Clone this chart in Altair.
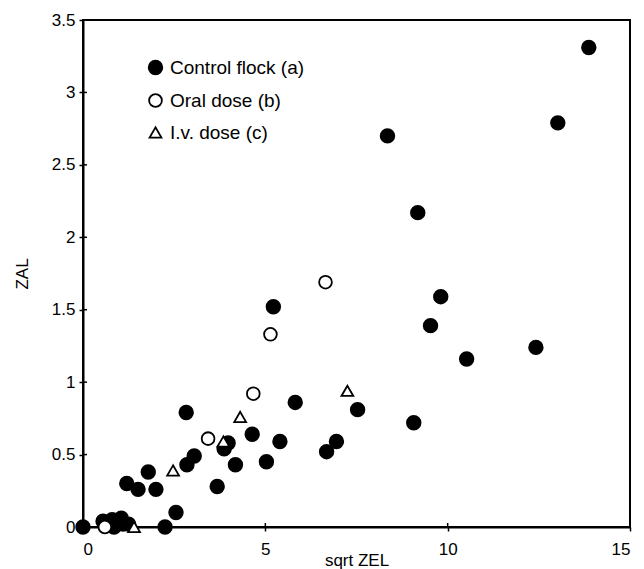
import altair as alt
import pandas as pd

# Control flock (a)
control_x = [0, 0.55, 0.8, 0.85, 1.05, 1.1, 1.25, 2.25, 2.55, 1.2, 1.51, 2.0, 1.79, 2.83, 2.85,
             3.05, 3.68, 3.87, 3.98, 4.18, 4.64, 5.03, 5.4, 5.82, 6.68, 6.95, 7.53, 5.22, 9.07,
             8.35, 9.18, 9.53, 9.81, 10.52, 12.42, 13.02, 13.87]
control_y = [0, 0.04, 0.05, 0.0, 0.06, 0.02, 0.02, 0.0, 0.10, 0.30, 0.26, 0.26, 0.38, 0.79, 0.43,
             0.49, 0.28, 0.54, 0.58, 0.43, 0.64, 0.45, 0.59, 0.86, 0.52, 0.59, 0.81, 1.52, 0.72,
             2.70, 2.17, 1.39, 1.59, 1.16, 1.24, 2.79, 3.31]
# Oral dose (b)
oral_x = [0.6, 3.43, 4.67, 5.14, 6.65]
oral_y = [0.0, 0.61, 0.92, 1.33, 1.69]
# I.v. dose (c)
iv_x = [1.4, 2.47, 3.85, 4.31, 7.25]
iv_y = [0.0, 0.39, 0.59, 0.76, 0.94]

groups = ["Control flock (a)", "Oral dose (b)", "I.v. dose (c)"]
x_ticks = [0, 5, 10, 15]
y_ticks = [0, 0.5, 1, 1.5, 2, 2.5, 3, 3.5]

rows = []
for g, xs, ys in [(groups[0], control_x, control_y), (groups[1], oral_x, oral_y), (groups[2], iv_x, iv_y)]:
    for a, b in zip(xs, ys):
        rows.append({"x": a, "y": b, "group": g})
df = pd.DataFrame(rows)
df["ord"] = range(len(df))

FONT = "Liberation Sans"

xscale = alt.Scale(domain=[0, 15], nice=False, zero=False)
yscale = alt.Scale(domain=[0, 3.5], nice=False, zero=False)

leg = alt.Legend(title=None, orient="none", legendX=63, legendY=38)

points = alt.Chart(df).mark_point(strokeWidth=1.8, opacity=1, fillOpacity=1, strokeOpacity=1).encode(
    x=alt.X("x:Q", scale=xscale, title="sqrt ZEL",
            axis=alt.Axis(values=x_ticks, grid=False, tickSize=4, labelPadding=10, titlePadding=-5)),
    y=alt.Y("y:Q", scale=yscale, title="ZAL",
            axis=alt.Axis(values=y_ticks, grid=False, tickSize=4, labelPadding=4, titlePadding=20,
                          format="~g")),
    shape=alt.Shape("group:N", scale=alt.Scale(domain=groups, range=["circle", "circle", "triangle-up"]),
                    legend=leg),
    fill=alt.Fill("group:N", scale=alt.Scale(domain=groups, range=["black", "white", "white"]), legend=leg),
    stroke=alt.Stroke("group:N", scale=alt.Scale(domain=groups, range=["black", "black", "black"]), legend=leg),
    size=alt.Size("group:N", scale=alt.Scale(domain=groups, range=[185, 140, 75]), legend=leg),
    order=alt.Order("ord:Q"),
)

ytk = pd.DataFrame({"v": y_ticks})
xtk = pd.DataFrame({"v": x_ticks})
inner_y = alt.Chart(ytk).mark_rule(color="black", strokeWidth=1.5).encode(
    y=alt.Y("v:Q", scale=yscale), x=alt.value(0), x2=alt.value(4))
inner_x = alt.Chart(xtk).mark_rule(color="black", strokeWidth=1.5).encode(
    x=alt.X("v:Q", scale=xscale), y=alt.value(507), y2=alt.value(503))

chart = alt.layer(points, inner_y, inner_x).properties(
    width=547, height=507,
    autosize=alt.AutoSizeParams(type="none"),
    padding={"left": 75, "top": 12, "right": 6, "bottom": 42},
).configure_view(
    stroke="black", strokeWidth=2
).configure_axis(
    domainColor="black", domainWidth=2, tickColor="black", tickWidth=1.5,
    labelFont=FONT, labelFontSize=17, labelColor="black",
    titleFont=FONT, titleFontSize=17, titleFontWeight="normal", titleColor="black",
).configure_legend(
    labelFont=FONT, labelFontSize=19, labelColor="black", rowPadding=12,
    labelOffset=5, symbolStrokeWidth=1.8, labelLimit=300,
)

chart.save("out.html", embed_options={"renderer": "svg", "actions": False})
